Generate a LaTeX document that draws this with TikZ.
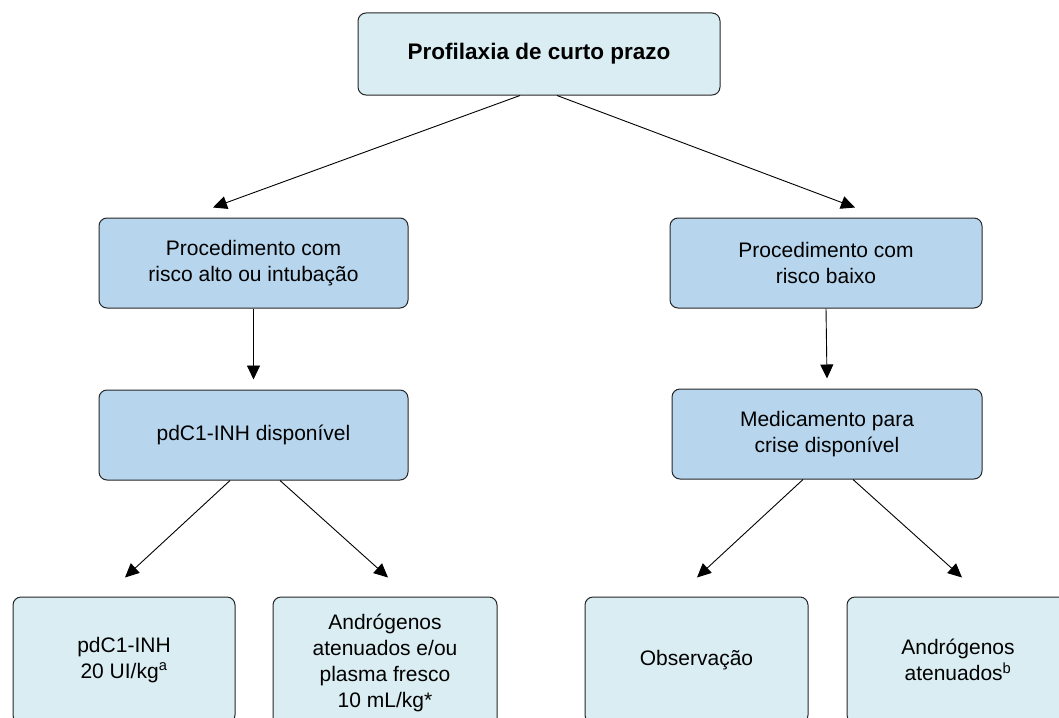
\documentclass[tikz,border=0pt]{standalone}
\usepackage{fontspec}
\setmainfont{Liberation Sans}
\usepackage{tikz}
\usetikzlibrary{calc}
\usetikzlibrary{arrows.meta}
\definecolor{palebox}{RGB}{218,237,242}
\definecolor{bluebox}{RGB}{183,214,238}
\tikzset{box/.style={draw=black!85, line width=1pt, rounded corners=8pt, align=center,
  font=\fontsize{21}{26}\selectfont, inner sep=0pt}}
\tikzset{pale/.style={box, fill=palebox}}
\tikzset{blue/.style={box, fill=bluebox}}
\tikzset{arr/.style={line width=0.9pt, -{Triangle[length=14pt,width=13pt]}}}

\begin{document}
\begin{tikzpicture} [x=1pt, y=-1pt]
\useasboundingbox (0,0) rectangle (1059,717);
\node[pale, minimum width=362, minimum height=82, font=\fontsize{22.5}{27}\selectfont\bfseries] (topo) at (539,54) {Profilaxia de curto prazo};
\node[blue, minimum width=309, minimum height=90] (altoR) at (253.5,263) {Procedimento com\\risco alto ou intubação};
\node[blue, minimum width=312, minimum height=90] (baixoR) at (826,263) {Procedimento com\\risco baixo};
\node[blue, minimum width=309, minimum height=90] (pdc) at (253.5,435) {pdC1-INH disponível};
\node[blue, minimum width=310, minimum height=90] (medic) at (827,434) {Medicamento para\\crise disponível};
\node[pale, minimum width=222, minimum height=126] (dose) at (124,660) {pdC1-INH\\20 UI/kg\textsuperscript{a}};
\node[pale, minimum width=224, minimum height=132] (plasma) at (385,663) {Andrógenos\\atenuados e/ou\\plasma fresco\\10 mL/kg*};
\node[pale, minimum width=223, minimum height=126] (obs) at (696.5,660) {Observação};
\node[pale, minimum width=222, minimum height=126] (andro) at (958,660) {Andrógenos\\atenuados\textsuperscript{b}};
% ligacoes
\draw[arr] ([xshift=-19pt]topo.south) -- ([xshift=-40.5pt,yshift=10pt]altoR.north);
\draw[arr] ([xshift=18pt]topo.south) -- ([xshift=29pt,yshift=10pt]baixoR.north);
\draw[arr] (altoR.south) -- ([yshift=10pt]pdc.north);
\draw[arr] (baixoR.south) -- ([yshift=10pt]medic.north);
\draw[arr] ([xshift=-23.5pt]pdc.south) -- ([xshift=1pt,yshift=19pt]dose.north);
\draw[arr] ([xshift=26.5pt]pdc.south) -- ([xshift=3pt,yshift=19pt]plasma.north);
\draw[arr] ([xshift=-24pt]medic.south) -- ([xshift=0.5pt,yshift=19pt]obs.north);
\draw[arr] ([xshift=26pt]medic.south) -- ([xshift=4pt,yshift=19pt]andro.north);
\end{tikzpicture}
\end{document}
